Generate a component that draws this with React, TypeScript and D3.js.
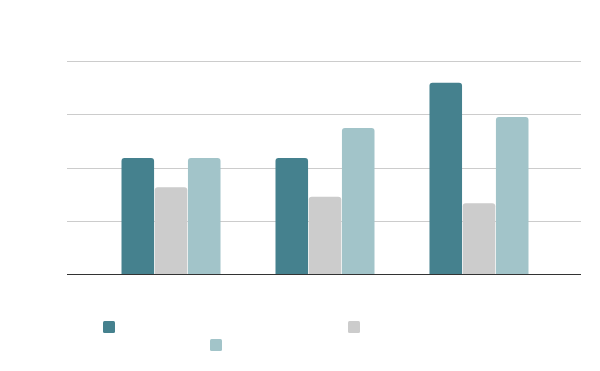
import React, {useEffect, useRef} from 'react';
import * as d3 from 'd3';

// categories and series (no labels are shown in it)
const categories = ['A', 'B', 'C'];
const seriesNames = ['s1', 's2', 's3'];
const seriesColors = ['#45818e', '#cccccc', '#a2c4c9'];
const s1 = [2.18, 2.18, 3.59];
const s2 = [1.63, 1.45, 1.33];
const s3 = [2.18, 2.74, 2.95];
const yTicks = [0, 1, 2, 3, 4];

const W = 600;
const H = 371;
const margin = {top: 61, right: 19, bottom: 97, left: 67};

const topRounded = (x: number, y: number, w: number, h: number, r: number) => {
  const rr = Math.min(r, h, w / 2);
  return `M${x},${y + h}V${y + rr}Q${x},${y} ${x + rr},${y}H${x + w - rr}Q${x + w},${y} ${x + w},${y + rr}V${y + h}Z`;
};

const App: React.FC = () => {
  const svgRef = useRef<SVGSVGElement>(null);

  useEffect(() => {
    if (!svgRef.current) return;
    const svg = d3.select(svgRef.current);
    svg.selectAll('*').remove();

    const series = [s1, s2, s3];
    const x0 = d3
      .scaleBand<string>()
      .domain(categories)
      .range([margin.left + 1, W - margin.right + 1])
      .paddingInner(0.357)
      .paddingOuter(0.3475);
    const x1 = d3
      .scaleBand<string>()
      .domain(seriesNames)
      .range([0, x0.bandwidth()])
      .paddingInner(0.02);
    const y = d3
      .scaleLinear()
      .domain([0, 4])
      .range([H - margin.bottom, margin.top]);

    // gridlines
    svg
      .append('g')
      .selectAll('line')
      .data(yTicks.slice(1))
      .join('line')
      .attr('x1', margin.left)
      .attr('x2', W - margin.right)
      .attr('y1', (d) => Math.round(y(d)) + 0.5)
      .attr('y2', (d) => Math.round(y(d)) + 0.5)
      .attr('stroke', '#cccccc')
      .attr('stroke-width', 1);

    // bars
    categories.forEach((cat, ci) => {
      const g = svg.append('g').attr('transform', `translate(${x0(cat)},0)`);
      seriesNames.forEach((s, si) => {
        const v = series[si][ci];
        g.append('path')
          .attr('d', topRounded(x1(s)!, y(v), x1.bandwidth(), y(0) - y(v), 3))
          .attr('fill', seriesColors[si]);
      });
    });

    // baseline
    svg
      .append('line')
      .attr('x1', margin.left)
      .attr('x2', W - margin.right)
      .attr('y1', y(0) + 0.5)
      .attr('y2', y(0) + 0.5)
      .attr('stroke', '#333333')
      .attr('stroke-width', 1);

    // legend (labels are empty in the reference)
    const legendPos = [
      [103, 321],
      [348, 321],
      [210, 339],
    ];
    svg
      .append('g')
      .selectAll('rect')
      .data(seriesNames)
      .join('rect')
      .attr('x', (_, i) => legendPos[i][0])
      .attr('y', (_, i) => legendPos[i][1])
      .attr('width', 12)
      .attr('height', 12)
      .attr('rx', 1.5)
      .attr('fill', (_, i) => seriesColors[i]);
  }, []);

  return (
    <svg
      ref={svgRef}
      width={W}
      height={H}
      style={{position: 'absolute', left: 0, top: 0, background: '#fff'}}
    />
  );
};

export default App;
